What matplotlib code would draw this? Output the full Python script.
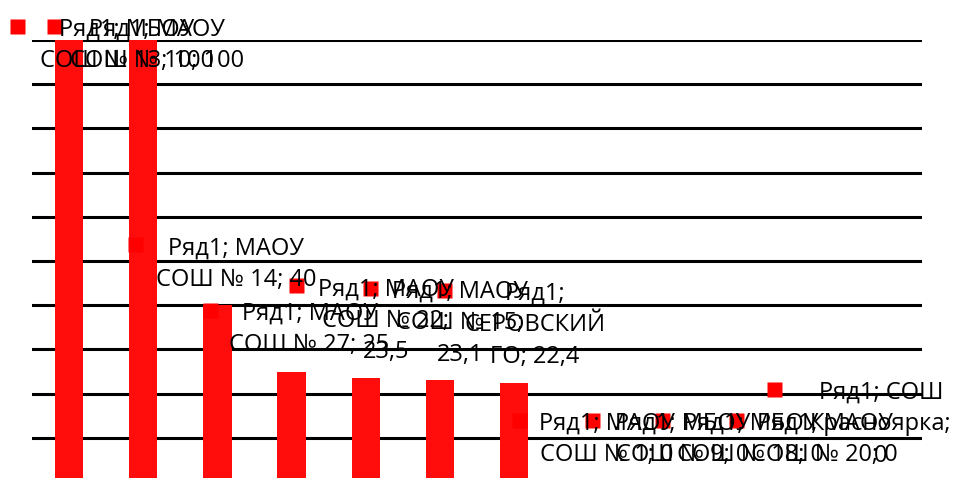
import textwrap
import matplotlib
matplotlib.use("Agg")
import matplotlib.pyplot as plt
from matplotlib.transforms import offset_copy

plt.rcParams["font.family"] = ["Open Sans", "DejaVu Sans"]

series = "Ряд1"
schools = ["МБОУ СОШ № 13", "МАОУ СОШ № 10", "МАОУ СОШ № 14", "МАОУ СОШ № 27",
           "МАОУ СОШ № 22", "МАОУ СОШ № 15", "СЕРОВСКИЙ ГО", "МАОУ СОШ № 1",
           "МБОУ СОШ № 9", "МБОУ СОШ № 18", "МАОУ СОШ № 20", "СОШ Красноярка"]
values = [100, 100, 40, 25, 23.5, 23.1, 22.4, 0, 0, 0, 0, 0]

# label placement (pixels, relative to the top centre of each bar)
wrap_width = [13, 13, 12, 12, 10, 10, 10, 10, 10, 11, 11, 11]
key_dx = [-52, -89, -82, -82, -70, -70, -70, -69, -70, -75, -75, -111]
key_dy = [14, 14, 61, 62, 93, 92, 93, 62, 62, 62, 62, 93]
text_dx = [58, 14, 19, 18, 20, 20, 21, 19, 20, 14, 14, -4]
line_gap = 31.5

red = "#FF0D0D"

fig = plt.figure(figsize=(9.56, 4.78), dpi=100)
ax = fig.add_axes([32 / 956, -4 / 478, 890 / 956, 442 / 478])

x = list(range(len(values)))
ax.bar(x, values, width=0.38, color=red, zorder=2)

ax.set_xlim(-0.5, len(values) - 0.5)
ax.set_ylim(0, 100)
ax.set_yticks(range(0, 101, 10))
ax.yaxis.grid(True, color="black", linewidth=2.2)
ax.set_axisbelow(True)
ax.tick_params(left=False, bottom=False, labelleft=False, labelbottom=False)
for s in ax.spines.values():
    s.set_visible(False)

for i, (name, v) in enumerate(zip(schools, values)):
    val = f"{v:g}".replace(".", ",")
    lines = textwrap.wrap(f"{series}; {name}; {val}", width=wrap_width[i])
    tr = offset_copy(ax.transData, fig=fig, x=key_dx[i], y=key_dy[i], units="dots")
    ax.plot([i], [v], marker="s", ms=10.8, color="#FF0000", mec="none",
            transform=tr, clip_on=False, zorder=4)
    for k, line in enumerate(lines):
        ax.annotate(line, xy=(i, v), xytext=(text_dx[i], key_dy[i] - 10 - line_gap * k),
                    textcoords="offset pixels", ha="center", va="baseline",
                    fontsize=17, color="black", annotation_clip=False, zorder=5)

fig.savefig("out.png", dpi=100)
